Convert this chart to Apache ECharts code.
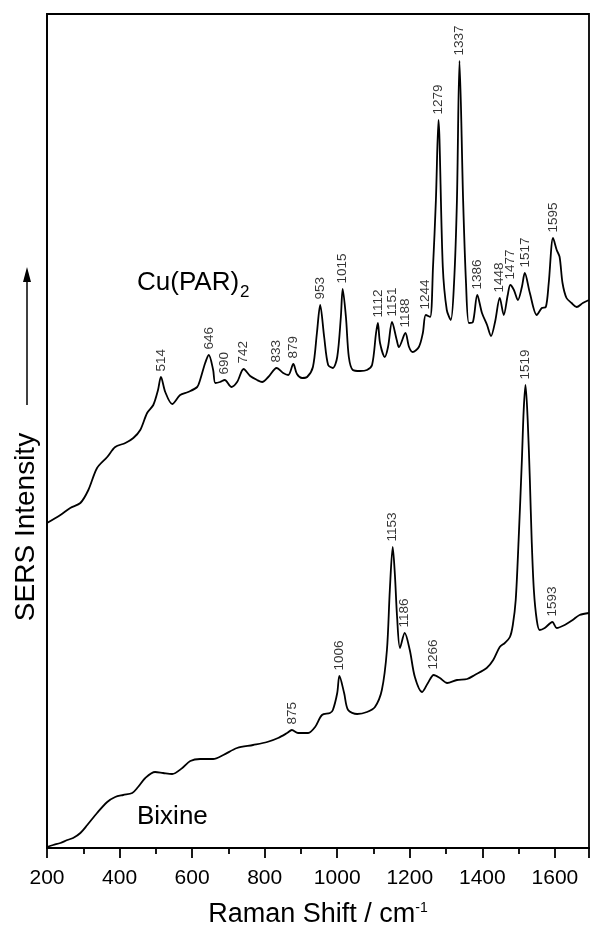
<!DOCTYPE html>
<html>
<head>
<meta charset="utf-8">
<script src="https://cdn.jsdelivr.net/npm/echarts@6/dist/echarts.min.js"></script>
<style>
  html, body { margin: 0; padding: 0; background: #fff; }
  #chart-sers { width: 591px; height: 934px; }
</style>
</head>
<body>
<div id="chart-sers"></div>
<script>
// Cu(PAR)2 spectrum, [Raman shift, intensity (a.u.)]
const cuSpectrum = [
  [200,325],[237,333],[264,340],[292,345],[314,358],[338,380],[366,391],[388,401],[416,405],[438,410],
  [457,418],[476,435],[493,443],[506,458],[514,471],[526,456],[545,444],[567,453],[589,456],[614,461],
  [622,468],[636,485],[646,493],[658,478],[664,465],[677,466],[690,468],[708,461],[724,466],[742,479],
  [760,472],[779,468],[793,466],[810,471],[833,480],[851,475],[865,473],[879,484],[889,474],[903,470],
  [917,471],[933,481],[944,515],[953,543],[964,511],[975,483],[988,480],[1000,491],[1010,531],[1015,559],
  [1024,531],[1032,491],[1043,478],[1063,477],[1082,478],[1096,483],[1107,515],[1112,525],[1118,505],[1131,491],
  [1140,501],[1151,526],[1164,508],[1170,501],[1188,515],[1198,501],[1208,496],[1225,501],[1236,515],[1244,533],
  [1256,531],[1264,581],[1272,648],[1279,728],[1291,581],[1302,538],[1313,528],[1322,565],[1330,648],[1337,787],
  [1347,648],[1355,565],[1363,525],[1374,526],[1386,553],[1399,535],[1413,523],[1424,512],[1435,526],[1448,550],
  [1459,533],[1470,553],[1477,563],[1487,558],[1498,548],[1509,561],[1517,575],[1531,555],[1550,533],[1564,540],
  [1575,541],[1583,565],[1595,610],[1605,598],[1613,591],[1621,565],[1632,550],[1646,545],[1660,541],[1677,545],
  [1694,548]
];

// Bixine spectrum
const bixSpectrum = [
  [200,1],[217,3],[237,5],[256,8],[272,10],[292,15],[311,23],[338,35],[366,46],[388,51],
  [410,53],[435,55],[451,61],[471,70],[498,76],[520,75],[545,74],[573,80],[595,87],[622,89],
  [658,89],[686,93],[724,100],[768,103],[807,106],[837,110],[862,115],[875,118],[892,115],[920,115],
  [939,121],[958,133],[980,135],[988,138],[1000,155],[1006,172],[1019,155],[1030,138],[1055,134],[1082,136],
  [1104,141],[1123,158],[1137,198],[1145,258],[1153,301],[1159,273],[1165,231],[1173,200],[1186,215],[1200,198],
  [1214,171],[1234,156],[1250,165],[1266,173],[1283,170],[1303,165],[1330,168],[1358,169],[1379,173],[1412,180],
  [1430,188],[1448,201],[1462,205],[1476,211],[1484,223],[1492,248],[1500,308],[1509,388],[1514,438],[1519,463],
  [1525,428],[1531,368],[1536,308],[1542,258],[1550,228],[1558,218],[1572,220],[1593,226],[1605,220],[1627,223],
  [1649,228],[1668,233],[1694,235]
];

// labelled bands
const cuPeaks = [514, 646, 690, 742, 833, 879, 953, 1015, 1112, 1151, 1188, 1244, 1279, 1337, 1386, 1448, 1477, 1517, 1595];
const bixPeaks = [875, 1006, 1153, 1186, 1266, 1519, 1593];

const xMin = 200, xMax = 1694, xStep = 200;

const FONT = 'Liberation Sans, Arial, sans-serif';

function peakPoints(spectrum, peaks) {
  return peaks.map(p => {
    const pt = spectrum.find(d => d[0] === p);
    return [p, pt[1]];
  });
}

const peakLabel = {
  show: true,
  position: 'top',
  distance: 5,
  rotate: 90,
  align: 'left',
  verticalAlign: 'middle',
  fontSize: 13.5,
  fontFamily: FONT,
  color: '#000',
  formatter: p => p.value[0]
};

const chartDom = document.getElementById('chart-sers');
const myChart = echarts.init(chartDom);

const option = {
  animation: false,
  textStyle: { fontFamily: FONT, color: '#000' },
  grid: {
    left: 47,
    right: 2,
    top: 14,
    bottom: 86,
    show: true,
    borderColor: '#000',
    borderWidth: 1.8
  },
  xAxis: {
    type: 'value',
    min: xMin,
    max: xMax,
    interval: xStep,
    name: 'Raman Shift / cm{sup|-1}',
    nameLocation: 'middle',
    nameGap: 53,
    nameTextStyle: {
      fontSize: 27,
      color: '#000',
      fontFamily: FONT,
      rich: {
        sup: { fontSize: 14, verticalAlign: 'top', padding: [0, 0, 14, 0], fontFamily: FONT, color: '#000' }
      }
    },
    axisLine: { show: true, lineStyle: { color: '#000', width: 1.8 } },
    axisTick: { show: true, length: 10, lineStyle: { color: '#000', width: 1.8 } },
    minorTick: { show: true, splitNumber: 2, length: 6, lineStyle: { color: '#000', width: 1.8 } },
    axisLabel: {
      fontSize: 21,
      color: '#000',
      margin: 20,
      showMaxLabel: false,
      formatter: v => String(v)
    },
    splitLine: { show: false }
  },
  yAxis: {
    type: 'value',
    min: 0,
    max: 834,
    axisLine: { show: true, lineStyle: { color: '#000', width: 1.8 } },
    axisTick: { show: false },
    axisLabel: { show: false },
    splitLine: { show: false }
  },
  graphic: [
    {
      type: 'text',
      x: 26,
      y: 527,
      rotation: Math.PI / 2,
      style: {
        text: 'SERS Intensity',
        font: '28px ' + FONT,
        fill: '#000',
        textAlign: 'center',
        textVerticalAlign: 'middle'
      }
    },
    {
      type: 'line',
      shape: { x1: 27, y1: 405, x2: 27, y2: 280 },
      style: { stroke: '#000', lineWidth: 1.5 }
    },
    {
      type: 'polygon',
      shape: { points: [[27, 267], [23, 282], [31, 282]] },
      style: { fill: '#000' }
    },
    {
      type: 'text',
      x: 137,
      y: 283,
      style: {
        text: 'Cu(PAR){sub|2}',
        font: '26px ' + FONT,
        fill: '#000',
        textVerticalAlign: 'middle',
        rich: {
          sub: { fontSize: 17, padding: [18, 0, 0, 1], fill: '#000', fontFamily: FONT }
        }
      }
    },
    {
      type: 'text',
      x: 137,
      y: 817,
      style: {
        text: 'Bixine',
        font: '26px ' + FONT,
        fill: '#000',
        textVerticalAlign: 'middle'
      }
    }
  ],
  series: [
    {
      name: 'Cu(PAR)2',
      type: 'line',
      data: cuSpectrum,
      symbol: 'none',
      smooth: 0.3,
      lineStyle: { color: '#000', width: 1.8 },
      clip: true
    },
    {
      name: 'Bixine',
      type: 'line',
      data: bixSpectrum,
      symbol: 'none',
      smooth: 0.3,
      lineStyle: { color: '#000', width: 1.8 },
      clip: true
    },
    {
      name: 'Cu peaks',
      type: 'scatter',
      data: peakPoints(cuSpectrum, cuPeaks),
      symbolSize: 1,
      itemStyle: { color: 'rgba(0,0,0,0)' },
      label: peakLabel
    },
    {
      name: 'Bixine peaks',
      type: 'scatter',
      data: peakPoints(bixSpectrum, bixPeaks),
      symbolSize: 1,
      itemStyle: { color: 'rgba(0,0,0,0)' },
      label: peakLabel
    }
  ]
};

option && myChart.setOption(option);
</script>
</body>
</html>
